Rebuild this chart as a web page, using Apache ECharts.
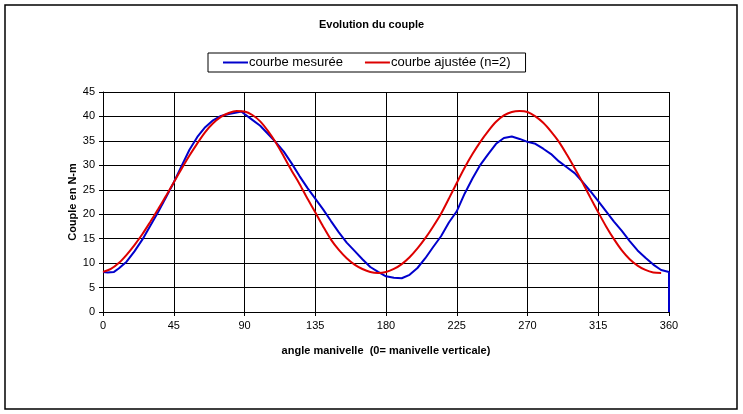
<!DOCTYPE html>
<html>
<head>
<meta charset="utf-8">
<script src="https://cdn.jsdelivr.net/npm/echarts@6/dist/echarts.min.js"></script>
<style>
html,body{margin:0;padding:0;background:#fff;}
#c{width:743px;height:414px;}
</style>
</head>
<body>
<div id="c"></div>
<script>
const titleText = "Evolution du couple";
const seriesNames = ["courbe mesurée", "courbe ajustée (n=2)"];
const xAxisName = "angle manivelle  (0= manivelle verticale)";
const yAxisName = "Couple en N-m";

const measuredAngles = [0,3,7,10,15,20,25,30,35,40,45,50,55,60,65,70,75,80,85,88,90,95,100,105,110,115,120,125,130,135,140,145,150,155,160,165,170,175,180,185,190,195,200,205,210,215,220,225,230,235,240,245,250,255,260,265,270,275,280,285,290,295,300,305,310,315,320,325,330,335,340,345,350,355,360,360];
const measuredValues = [8.2,8.1,8.2,8.9,10.3,12.4,14.8,17.6,20.4,23.4,26.5,29.9,33.2,35.8,37.8,39.2,40.1,40.5,40.8,41.0,40.5,39.3,38.1,36.4,34.7,32.8,30.4,27.8,25.4,23.2,21.0,18.6,16.3,14.2,12.5,10.8,9.2,8.2,7.3,7.0,6.9,7.6,9.0,11.0,13.3,15.5,18.3,20.6,24.2,27.3,30.1,32.3,34.4,35.6,35.9,35.4,34.8,34.4,33.4,32.3,30.8,29.6,28.4,26.6,24.7,22.7,20.6,18.5,16.6,14.5,12.6,11.1,9.7,8.6,8.2,0];

const fittedAngles = [0,5,10,15,20,25,30,35,40,45,50,55,60,65,70,75,80,85,90,95,100,105,110,115,120,125,130,135,140,145,150,155,160,165,170,175,180,185,190,195,200,205,210,215,220,225,230,235,240,245,250,255,260,265,270,275,280,285,290,295,300,305,310,315,320,325,330,335,340,345,350,355];
const fittedValues = [8.2,8.8,10.0,11.7,13.7,15.9,18.4,21.0,23.7,26.5,29.3,32.0,34.5,36.8,38.6,39.9,40.7,41.1,41.0,40.3,39.0,37.0,34.6,31.8,28.9,26.2,23.2,20.4,17.5,14.8,12.7,11.0,9.7,8.8,8.2,8.0,8.2,8.8,9.8,11.2,13.0,15.1,17.5,20.1,23.2,26.4,29.5,32.3,34.8,37.0,38.9,40.2,40.9,41.1,40.9,40.0,38.7,36.9,34.8,32.2,29.4,26.5,23.4,20.4,17.5,14.9,12.6,10.8,9.5,8.6,8.1,8.0];

const xTicks = {min:0, max:360, interval:45};
const yTicks = {min:0, max:45, interval:5};

const pair = (xs, ys) => xs.map((x, i) => [x, ys[i]]);
const FONT = "Liberation Sans, Arial, sans-serif";

const chart = echarts.init(document.getElementById('c'), null, {renderer:'canvas'});
chart.setOption({
  backgroundColor: '#fff',
  animation: false,
  title: {
    text: titleText, left: 'center', top: 14,
    textStyle: {fontFamily: FONT, fontSize: 11, fontWeight: 'bold', color: '#000'}
  },
  legend: {
    left: 208, top: 53,
    padding: [3, 15, 3, 15],
    borderColor: '#000', borderWidth: 1,
    itemWidth: 25, itemHeight: 2, itemGap: 22,
    icon: 'rect',
    textStyle: {fontFamily: FONT, fontSize: 13, color: '#000', padding: [0,0,0,-4]},
    data: seriesNames
  },
  graphic: [{
    type: 'rect', silent: true,
    shape: {x: 5, y: 5, width: 732, height: 404},
    style: {fill: 'none', stroke: '#000', lineWidth: 1.5}
  }],
  grid: {left: 103, top: 92, width: 566, height: 220},
  xAxis: {
    type: 'value', min: xTicks.min, max: xTicks.max, interval: xTicks.interval,
    name: xAxisName, nameLocation: 'middle', nameGap: 33, nameMoveOverlap: false,
    nameTextStyle: {fontFamily: FONT, fontSize: 11, fontWeight: 'bold', color: '#000'},
    axisLine: {show: true, lineStyle: {color: '#000', width: 1}},
    axisTick: {show: true, length: 4, lineStyle: {color: '#000'}},
    axisLabel: {fontFamily: FONT, fontSize: 11, color: '#000', margin: 8},
    splitLine: {show: true, lineStyle: {color: '#000', width: 1}}
  },
  yAxis: {
    type: 'value', min: yTicks.min, max: yTicks.max, interval: yTicks.interval,
    name: yAxisName, nameLocation: 'middle', nameGap: 25, nameMoveOverlap: false,
    nameTextStyle: {fontFamily: FONT, fontSize: 11, fontWeight: 'bold', color: '#000'},
    axisLine: {show: true, lineStyle: {color: '#000', width: 1}},
    axisTick: {show: true, length: 4, lineStyle: {color: '#000'}},
    axisLabel: {fontFamily: FONT, fontSize: 11, color: '#000', margin: 8},
    splitLine: {show: true, lineStyle: {color: '#000', width: 1}}
  },
  series: [
    {
      name: seriesNames[0], type: 'line', showSymbol: false, symbol: 'none',
      data: pair(measuredAngles, measuredValues),
      lineStyle: {color: '#0000CC', width: 2},
      itemStyle: {color: '#0000CC'}, z: 3
    },
    {
      name: seriesNames[1], type: 'line', showSymbol: false, symbol: 'none', smooth: 0.3,
      data: pair(fittedAngles, fittedValues),
      lineStyle: {color: '#DD0000', width: 2},
      itemStyle: {color: '#DD0000'}, z: 4
    }
  ]
});
</script>
</body>
</html>
